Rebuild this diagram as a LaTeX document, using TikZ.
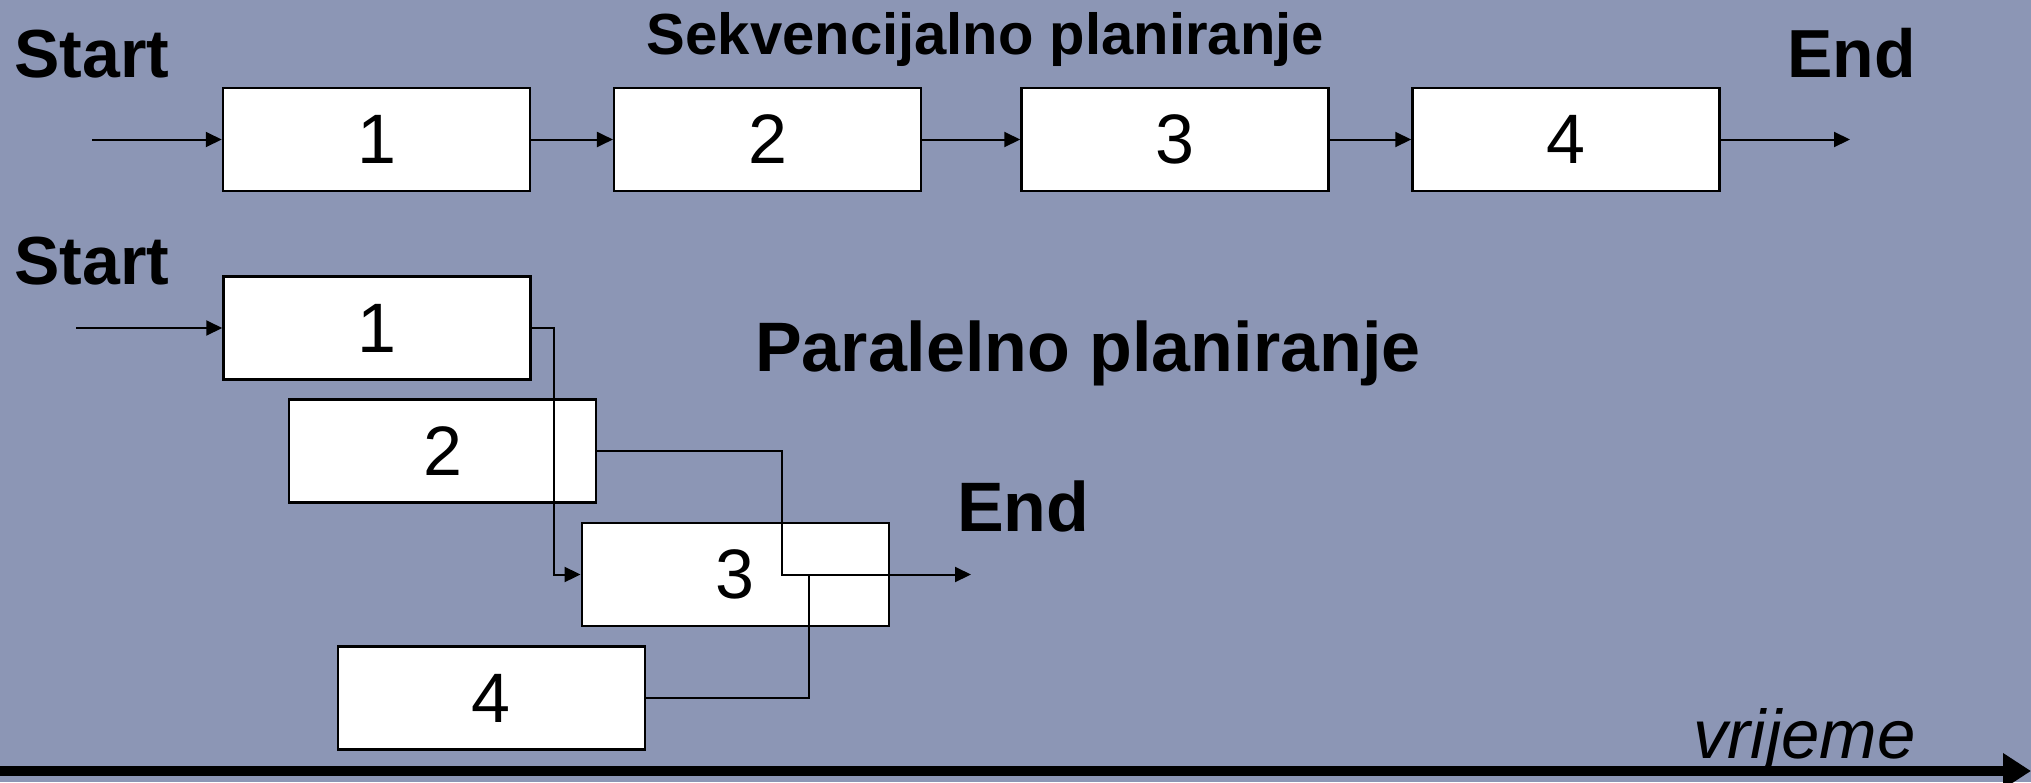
\documentclass[tikz,border=0pt]{standalone}
\usepackage{fontspec}
\setmainfont{Liberation Sans}
\usetikzlibrary{arrows.meta}
\definecolor{bg}{RGB}{140,150,181}
\begin{document}
\begin{tikzpicture}[x=1pt,y=-1pt,
  box/.style={draw=black,fill=white,line width=2.5pt,minimum width=307pt,minimum height=103pt,inner sep=0pt,
    font=\fontsize{70}{84}\selectfont},
  conn/.style={line width=2pt,-{Triangle[length=16pt,width=15pt]}},
  wire/.style={line width=2pt},
  big/.style={anchor=base west,inner sep=0pt,font=\fontsize{68}{80}\selectfont\bfseries},
]
\fill[bg] (0,0) rectangle (2031,782);
\useasboundingbox (0,0) rectangle (2031,782);

% sequential row
\node[box] (s1) at (376.5,139.5) {1};
\node[box] (s2) at (767.7,139.5) {2};
\node[box] (s3) at (1175,139.5) {3};
\node[box] (s4) at (1566,139.5) {4};
\coordinate (st1) at (92,139.5);
\coordinate (en1) at (1850,139.5);
\draw[conn] (st1) -- (s1);
\draw[conn] (s1) -- (s2);
\draw[conn] (s2) -- (s3);
\draw[conn] (s3) -- (s4);
\draw[conn] (s4) -- (en1);

\node[big] (start1) at (14,77.3) {Start};
\node[big] (end1) at (1787,77.7) {End};
\node[anchor=base west,inner sep=0pt,font=\fontsize{58}{70}\selectfont\bfseries] (seq) at (646.7,54.3) {Sekvencijalno planiranje};

% parallel
\node[box] (p1) at (377,328) {1};
\node[box] (p2) at (442.5,451) {2};
\node[box] (p3) at (735.3,574.5) {3};
\node[box] (p4) at (491.3,698) {4};
\coordinate (st2) at (76,328);
\coordinate (endp) at (971,574.5);
\coordinate (j) at (809,574.5);
\draw[conn] (st2) -- (p1);
\draw[conn] (p1.east) -- ++(22,0) |- (p3.west);
\draw[conn] (p2.east) -- ++(185,0) |- (endp);
\draw[wire] (p4.east) -| (j);

\node[big] (start2) at (14,284) {Start};
\node[big,font=\fontsize{70}{84}\selectfont\bfseries] (par) at (755,371.7) {Paralelno planiranje};
\node[big,font=\fontsize{70}{84}\selectfont\bfseries] (end2) at (957,531.7) {End};

% time axis
\coordinate (a0) at (0,771);
\coordinate (a1) at (2031,771);
\draw[line width=10pt,-{Triangle[length=28pt,width=34pt]}] (a0) -- (a1);
\node[anchor=base west,inner sep=0pt,font=\fontsize{69}{82}\selectfont\itshape] (time) at (1693,758.3) {vrijeme};
\end{tikzpicture}
\end{document}
